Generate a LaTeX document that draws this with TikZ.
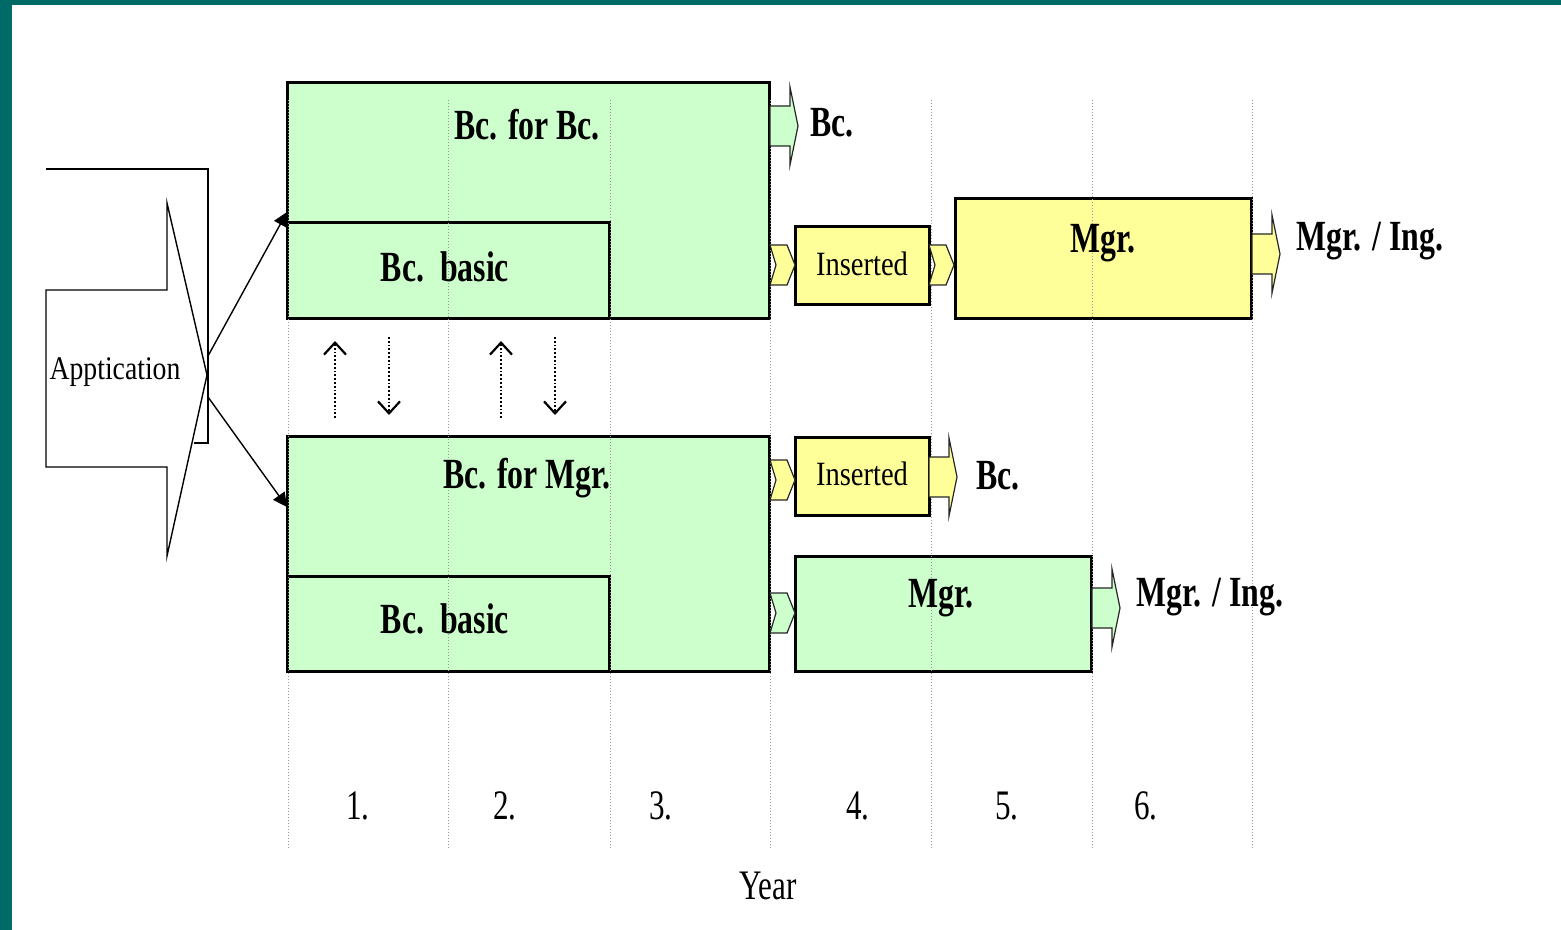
\documentclass[tikz,border=0pt]{standalone}
\usepackage{fontspec}
\setmainfont{Liberation Serif}
\newfontfamily\tightfont[FakeStretch=0.74]{Liberation Serif}
\newfontfamily\plainfont[FakeStretch=0.84]{Liberation Serif}
\usepackage{tikz}
\usetikzlibrary{arrows.meta,fit}
\definecolor{slidegreen}{HTML}{CCFFCC}
\definecolor{slideyellow}{HTML}{FFFF99}
\definecolor{slideteal}{HTML}{006B66}

\begin{document}
\begin{tikzpicture}[x=0.5pt,y=-0.5pt,
    box/.style={draw=black,line width=1.5pt,inner sep=0pt},
    greenbox/.style={box,fill=slidegreen},
    yellowbox/.style={box,fill=slideyellow},
    heading/.style={font=\tightfont\bfseries\fontsize{21.5}{24}\selectfont,inner sep=0pt},
    small/.style={font=\plainfont\fontsize{17}{19}\selectfont,inner sep=0pt},
    yearlbl/.style={font=\tightfont\fontsize{21}{24}\selectfont,inner sep=0pt},
    feed/.style={line width=0.7pt,-{Triangle[length=7pt,width=7pt]}},
    swap/.style={densely dotted,line width=0.9pt,-{Straight Barb[length=6pt,width=11pt,line width=1.1pt]}},
    blockline/.style={draw=black!85,line width=0.6pt}]
    \useasboundingbox (0,0) rectangle (1561,930);
    % slide frame
    \fill[slideteal] (0,0) rectangle (1561,5);
    \fill[slideteal] (0,0) rectangle (12,930);
    % application arrow
    \draw[line width=0.7pt] (46,169) -- (208,169) -- (208,443) -- (194,443);
    \draw[line width=0.7pt,fill=white] (46,290) -- (167,290) -- (167,203) -- (207,375)
        -- (167,556) -- (167,467) -- (46,467) -- cycle;
    \node (app) [small,font=\plainfont\fontsize{16.5}{18}\selectfont] at (115,372) {Apptication};
    \coordinate (appup) at (208,356);
    \coordinate (appdown) at (208,397);
    % programmes
    \node (bcbc) [greenbox,fit={(287,83) (769,319)}] {};
    \node (basicA) [greenbox,fit={(287,223) (609,319)}] {};
    \node (bcmgr) [greenbox,fit={(287,436) (769,671)}] {};
    \node (basicB) [greenbox,fit={(287,576) (609,671)}] {};
    \node (insA) [yellowbox,fit={(795,227) (929,305)}] {};
    \node (mgrA) [yellowbox,fit={(955,199) (1251,319)}] {};
    \node (insB) [yellowbox,fit={(795,437) (929,515)}] {};
    \node (mgrB) [greenbox,fit={(795,556) (1091,671)}] {};
    % year grid
    \foreach \gx in {288,448,610,770,931,1092,1252}
        \draw[densely dotted,gray!80,line width=0.5pt] (\gx,100) -- (\gx,850);
    % outgoing block arrows
    \foreach \ax/\ay/\col in {770/126/slidegreen,929/477/slideyellow,1252/254/slideyellow,1092/608/slidegreen}
        \draw[blockline,fill=\col] (\ax,\ay-20) -- (\ax+20,\ay-20) -- (\ax+20,\ay-39) -- (\ax+28,\ay)
            -- (\ax+20,\ay+39) -- (\ax+20,\ay+20) -- (\ax,\ay+20) -- cycle;
    % chevrons between boxes
    \foreach \ax/\ay/\col in {770/265/slideyellow,929/265/slideyellow,770/480/slideyellow,770/613/slidegreen}
        \draw[blockline,fill=\col] (\ax,\ay-20) -- (\ax+17,\ay-20) -- (\ax+25,\ay) -- (\ax+17,\ay+20)
            -- (\ax,\ay+20) -- (\ax+6,\ay) -- cycle;
    % labels
    \node (bcbcl) [heading] at (527,125) {Bc. for Bc.};
    \node (basicAl) [heading] at (445,267) {Bc.~~basic};
    \node (bcmgrl) [heading] at (527,478) {Bc. for Mgr.};
    \node (basicBl) [heading] at (445,619) {Bc.~~basic};
    \node (insAl) [small] at (862,264) {Inserted};
    \node (insBl) [small] at (862,474) {Inserted};
    \node (mgrAl) [heading] at (1103,243) {Mgr.};
    \node (mgrBl) [heading] at (941,598) {Mgr.};
    \node (outA) [heading] at (832,123) {Bc.};
    \node (outB) [heading] at (998,476) {Bc.};
    \node (outC) [heading] at (1370,241) {Mgr. / Ing.};
    \node (outD) [heading] at (1210,597) {Mgr. / Ing.};
    % entry connectors
    \coordinate (inA) at (287,212);
    \coordinate (inB) at (287,507);
    \draw[feed] (appup) -- (inA);
    \draw[feed] (appdown) -- (inB);
    % transfers between programmes
    \foreach \sx in {335,501}
        \draw[swap] (\sx,418) -- (\sx,341);
    \foreach \sx in {389,555}
        \draw[swap] (\sx,337) -- (\sx,415);
    % years
    \foreach \yx/\yn in {358/1,505/2,661/3,858/4,1007/5,1146/6}
        \node (yr\yn) [yearlbl] at (\yx,806) {\yn.};
    \node (year) [yearlbl] at (768,886) {Year};
\end{tikzpicture}
\end{document}
